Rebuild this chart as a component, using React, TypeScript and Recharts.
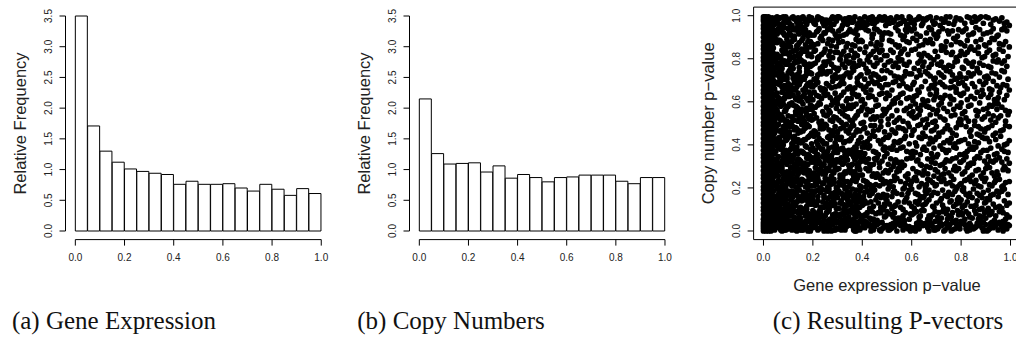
import React from "react";
import {
  ComposedChart,
  ScatterChart,
  Bar,
  Scatter,
  XAxis,
  YAxis,
  ReferenceLine,
  ReferenceArea,
  Label,
} from "recharts";

const sans = "'Liberation Sans', Arial, Helvetica, sans-serif";
const serif = "'Liberation Serif', 'Times New Roman', serif";
const ink = "#000";
const labelInk = "#222";

// histogram bins are 0.05 wide; values are relative frequencies (density)
const binMids = [
  0.025, 0.075, 0.125, 0.175, 0.225, 0.275, 0.325, 0.375, 0.425, 0.475,
  0.525, 0.575, 0.625, 0.675, 0.725, 0.775, 0.825, 0.875, 0.925, 0.975,
];
const geneFreq = [
  3.5, 1.71, 1.3, 1.12, 1.01, 0.97, 0.94, 0.92, 0.76, 0.81,
  0.76, 0.76, 0.77, 0.7, 0.65, 0.76, 0.68, 0.58, 0.69, 0.61,
];
const copyFreq = [
  2.15, 1.26, 1.09, 1.1, 1.11, 0.96, 1.06, 0.86, 0.92, 0.87,
  0.8, 0.87, 0.88, 0.91, 0.91, 0.91, 0.81, 0.77, 0.87, 0.87,
];
const pTicks = [0, 0.2, 0.4, 0.6, 0.8, 1];
const freqTicks = [0, 0.5, 1, 1.5, 2, 2.5, 3, 3.5];

// P-vectors, grouped in 0.05 x 0.05 blocks of the p-value plane.
// pGrid[b] covers copy-number p in [0.05b, 0.05b + 0.05); its 20 space-separated
// blocks step through gene-expression p in 0.05 columns. A block is a run of
// two-digit points: gene offset then copy offset, both in steps of 0.005.
const pGrid = [
  "000408121620242832364044485256606973879102061435586683 0317253841596276849709143346506871899205273658814472 471382065931942870651943870256389124756129 60114983370872269554176933804598210852 6307865239147790256803415884167529 99347129500588426620935712794681 36610985442774531896316702488912 81155893402672076435895019463167 23705508913866148247299674 046237851973502894416826 571189327605439821648036 1549729027630884365531 780244691387305695216247 3391065874258140176699 6024871245933871035629 487516923167048352203996 0964278542711850933677 551380376902469124735888 2179440663973285105847 8634017249189557266340",
  "01050913172125293337414549505764717885921460 26834107651992387450129733598645237881 7015489324610687395278295336 44811763299502563870937654 136790355821844609528317 722851960439651783864130 4087236114985536726993 0953763192186745389427 6225884703713491 16598337942057 45087126925367 813457129640 27630589481674 529831750944 69138642275891 043779602385 48921566317307 832654199741 35700258841946 611893477529",
  "0206101418222630343842465054596772808995 571384397106924528661079893246 338820640547915612772941 7641189553296702508539 24608735097248926215 91164378572205308564 38641189502673744597 075582316914613887 46932861047715 195285367083 630841972574 3086125947 942168035537 1549822773 6106389054 287943179665 8312573409 509624713803 0765398221 7431581396",
  "0004081216202428323640444852566069738791 842965114793360278531960705724 420789317456159823568237 6812509734812645317390 03587916429327669148 55208639710864934227 17824469013596518663 732958069140442287 26851263479879 510874339022 196742850356 8824613975 3572095491 631748862502 9240731558 0657348169 449118622775 7135095386 2864974310 5902378416",
  "0105091317212529333741454950576471788592 367215985304812769409412785520 612487094576325893397016 1855037941669227724688 84376012954926561833 09437821579064752836 52158633704801916629 276904915638904782 80451763923136 135896427468 672289055136 4093167854 0661298447 753892115723 2984460368 9315714832 5804378620 147942966127 8733520975 4296186531",
  "0206101418222630343842465054596772808995 4981266307953874125790835521 1570438821560497298366 62349117764805935727 29835610674295478514 741851378903266597 409622650853187431 873114694592256208 560238816793 237449961041 8537611498 51067329 1864924530 9733590681 42781563 6621884704 1359359270 84472661 3995087154 02684786",
  "0004081216202428323640444852566069738791 551792436831068429765013228764 872462094896357116519375 3379055894216742876212 70144789266308559232 41961862358357297406 06537924913865428615 582284114697397062 34710592571862 894316652807 125076379463 6724984103 458119567208 2064379378 8609523174 3794156850 712683044962 0358399517 6412864529 1877509334",
  "0105091317212529333741454950576471788592 73289146046219853756839457 1165388257039426784851 49861470329561045823 255893074176863114 681237845099249673 034771269255619584 803615634821574293 579422690828 3176138885 4602855927 93386417 1471499633 62258708 3983561175 05489167 7621543298 28630685 92471571 54098336",
  "0206101418222630343842465054596772808995 37841269955126037843605288 92461973315807856442 246789034512789135 56913318744083 11458269279638 63083794522516 39749716610472 2066438912 7508513497 29639217 5814814603 86326709 4195187356 07629428 8326511269 35880461 5913774296 16693385 71289450",
  "0004081216202428323640444852566069738791 186543970472298651336792 54812709663893123875 773502599123461968 40136885229665 87510934631892 25794602915773 64178338055229 9341267815 08578234 6219449671 35870653 7924581391 16633984 5298217507 31668914 84094772 4792186530 05588126 68234497",
  "0105091317212529333741454950576471788592 923764158148067329564328 216843950782369453 581487326609937425 357219985104 622895431776 1386493167 904522680357 38741196 6726528904 14834761 89327005 4607932568 24715892 73360964 58942781 19624503 96377412 43812967 27056288",
  "0206101418222630343842465054596772808995 461283572995680471388219 75390661921847842866 135296287341875493 680447812559 327915579440 972163084684 145836927127 6105824328 37911673 8248256903 19649642 5411388772 08457326 9127644912 43761895 66318709 22594183 7814569337 35910862",
  "0004081216202428323640444852566069738791 592487410673951862337451 08632984469115723688 863761049225531079 195573369802 448806612793 711459833602 286591471376 8539026654 47129368 2673510894 63388417 1192466925 95315782 34087653 6923974215 06522885 87136539 24914772 52197604",
  "0105091317212529333741454950576471788592 821754369361084975273994 33965812744187256107 670943882155948641 047126924863 531784356901 388215579326 764304682195 1257893471 9628634507 41791658 7305379264 28845116 6519429783 01563874 8744136229 52973518 14715986 6932089551 91462375",
  "0206101418222630343842465054596772808995 257148931662398407569133 64198542077136982875 317758139644025687 894511673276 166392284885 540976418723 033962951784 4773215896 8215693351 09643793 5821864412 75430669 3692185481 63278945 1872359651 84426703 39069357 57862214 13588139",
  "0004081216202428323640444852566069738791 673209855114784396262358 41872356920568347719 941862377509518335 268349056197 723804915517 459629621178 882253077436 3167941549 59038426 1792537638 6429088745 93562178 42076589 1581476234 78330457 2166934812 56843107 97426823 36730958",
  "0105091317212529333741454950576471788592 1458873269039541766521 792652911347684184 0563388419923757 521774419628 8633610947 205793347206 6318458931 97522674 1146836829 56033891 27741549 82396408 05519733 48861269 93246136 34790756 71184592 16638438 824719",
  "0206101418222630343842465054596772808995 5391276408468215379872 367204589521831549 8143176629945086 1369448702 6724915238 0984467115 4297235876 74318906 25681253 91467327 38026685 62194793 17743558 86420971 49952366 04578132 68269341 35780259 91146643",
  "0004081216202428323640444852566069738791 286491471379355806827216 85143967229351084779 479226610874332953 713558129446 044983276691 387316955221 620744892557 1956823793 8427614508 33791496 5712884165 06437128 9267248349 25589611 71360387 4893621526 83295704 14684591 59023776",
  "01050913172125293337414549505764717885920719 27638914489532760851691984381797 57921338740685492167963188 441879036597295286376698 9136582277054984134796 1669438801573495722587 82285509944167197498 35730896496124871693 68149742298356015789 03497625915837896697 548917663892052398 29724598136187364589 813669045793226897 16599338752782 640847893176 974219685503 3378065994 581983472569 0966428728 7438911553",
];

const pvectors = pGrid.flatMap((row, b) =>
  row.split(" ").flatMap((block, c) => {
    const pts: { gene: number; copy: number }[] = [];
    for (let i = 0; i + 1 < block.length; i += 2) {
      pts.push({
        gene: c * 0.05 + Number(block[i]) * 0.005,
        copy: b * 0.05 + Number(block[i + 1]) * 0.005,
      });
    }
    return pts;
  })
);

const BottomTick = (props: any) => {
  const { x, y, payload } = props;
  return (
    <text
      x={x}
      y={y + 10}
      textAnchor="middle"
      dominantBaseline="central"
      fontFamily={sans}
      fontSize={10}
      fill={labelInk}
    >
      {Number(payload.value).toFixed(1)}
    </text>
  );
};

// R-style y labels: parallel to the axis, reading upwards
const LeftTick = (props: any) => {
  const { x, y, payload } = props;
  const cx = x - 9;
  return (
    <text
      x={cx}
      y={y}
      transform={`rotate(-90 ${cx} ${y})`}
      textAnchor="middle"
      dominantBaseline="central"
      fontFamily={sans}
      fontSize={10}
      fill={labelInk}
    >
      {Number(payload.value).toFixed(1)}
    </text>
  );
};

const sideTitle = (text: string) => (props: any) => {
  const { viewBox } = props;
  const cx = viewBox.x + viewBox.width - 46;
  const cy = viewBox.y + viewBox.height / 2;
  return (
    <text
      x={cx}
      y={cy}
      transform={`rotate(-90 ${cx} ${cy})`}
      textAnchor="middle"
      dominantBaseline="central"
      fontFamily={sans}
      fontSize={16.5}
      fill={labelInk}
    >
      {text}
    </text>
  );
};

const bottomTitle = (text: string) => (props: any) => {
  const { viewBox } = props;
  return (
    <text
      x={viewBox.x + viewBox.width / 2}
      y={viewBox.y + 45}
      textAnchor="middle"
      dominantBaseline="central"
      fontFamily={sans}
      fontSize={16.5}
      fill={labelInk}
    >
      {text}
    </text>
  );
};

const dot = (p: any) => <circle cx={p.cx} cy={p.cy} r={2.85} fill={ink} />;

function Histogram({
  freq,
  left,
  margin,
}: {
  freq: number[];
  left: number;
  margin: { top: number; right: number; bottom: number; left: number };
}) {
  const data = binMids.map((mid, i) => ({ mid, freq: freq[i] }));
  return (
    <div style={{ position: "absolute", left, top: 0 }}>
      <ComposedChart width={340} height={300} data={data} margin={margin} barCategoryGap={0} barGap={0}>
        <XAxis
          dataKey="mid"
          type="number"
          domain={[-0.04, 1.04]}
          ticks={pTicks}
          interval={0}
          axisLine={false}
          tickLine={{ stroke: ink }}
          tickSize={6}
          tick={BottomTick}
          height={30}
        />
        <YAxis
          type="number"
          domain={[-0.14, 3.64]}
          ticks={freqTicks}
          interval={0}
          axisLine={false}
          tickLine={{ stroke: ink }}
          tickSize={6}
          tick={LeftTick}
          width={50}
        >
          <Label content={sideTitle("Relative Frequency")} />
        </YAxis>
        <Bar dataKey="freq" fill="#fff" stroke={ink} strokeWidth={1} isAnimationActive={false} />
        <ReferenceLine segment={[{ x: 0, y: -0.14 }, { x: 1, y: -0.14 }]} stroke={ink} ifOverflow="visible" />
        <ReferenceLine segment={[{ x: -0.04, y: 0 }, { x: -0.04, y: 3.5 }]} stroke={ink} ifOverflow="visible" />
      </ComposedChart>
    </div>
  );
}

function PvectorScatter() {
  return (
    <div style={{ position: "absolute", left: 680, top: 0 }}>
      <ScatterChart width={345} height={300} margin={{ top: 7.1, right: 4.6, bottom: 30.4, left: 23.6 }}>
        <XAxis
          dataKey="gene"
          type="number"
          domain={[-0.04, 1.04]}
          ticks={pTicks}
          interval={0}
          axisLine={false}
          tickLine={{ stroke: ink }}
          tickSize={6}
          tick={BottomTick}
          height={30}
        >
          <Label content={bottomTitle("Gene expression p\u2212value")} />
        </XAxis>
        <YAxis
          dataKey="copy"
          type="number"
          domain={[-0.04, 1.04]}
          ticks={pTicks}
          interval={0}
          axisLine={false}
          tickLine={{ stroke: ink }}
          tickSize={6}
          tick={LeftTick}
          width={50}
        >
          <Label content={sideTitle("Copy number p\u2212value")} />
        </YAxis>
        <Scatter data={pvectors} fill={ink} shape={dot} isAnimationActive={false} />
        <ReferenceArea
          x1={-0.04}
          x2={1.04}
          y1={-0.04}
          y2={1.04}
          fill="none"
          fillOpacity={0}
          stroke={ink}
          strokeOpacity={1}
          ifOverflow="visible"
        />
      </ScatterChart>
    </div>
  );
}

export default function App() {
  return (
    <div
      style={{
        position: "absolute",
        left: 0,
        top: 0,
        width: 1016,
        height: 341,
        overflow: "hidden",
        background: "#fff",
      }}
    >
      <Histogram freq={geneFreq} left={0} margin={{ top: 7.4, right: 8.9, bottom: 30.4, left: 15.5 }} />
      <Histogram freq={copyFreq} left={340} margin={{ top: 7.4, right: 5.2, bottom: 30.4, left: 19.5 }} />
      <PvectorScatter />
      <svg width={1016} height={341} style={{ position: "absolute", left: 0, top: 0, pointerEvents: "none" }}>
        <g fontFamily={serif} fontSize={25} fill="#111" textAnchor="middle">
          <text x={114} y={329}>(a) Gene Expression</text>
          <text x={451} y={329}>(b) Copy Numbers</text>
          <text x={888} y={329}>(c) Resulting P-vectors</text>
        </g>
      </svg>
    </div>
  );
}
